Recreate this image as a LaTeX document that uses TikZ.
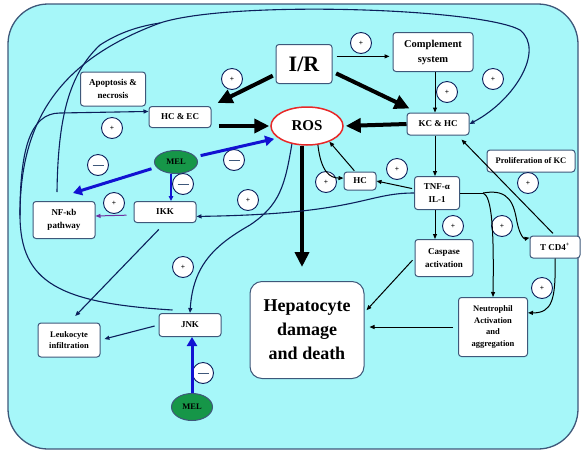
\documentclass[tikz,border=0pt]{standalone}
\usepackage{fontspec}
\setmainfont{Liberation Serif}
\usetikzlibrary{arrows.meta,shapes.geometric}
\definecolor{bgcyan}{RGB}{166,247,249}
\definecolor{boxline}{RGB}{62,88,122}
\definecolor{navy}{RGB}{12,32,92}
\definecolor{melblue}{RGB}{18,18,210}
\definecolor{melgreen}{RGB}{22,150,72}
\definecolor{rosred}{RGB}{232,40,40}
\definecolor{ikkpurple}{RGB}{112,48,160}
\begin{document}
\begin{tikzpicture}[
            x=1pt, y=-1pt,
            main node/.style={draw=boxline,fill=white,line width=1pt,rounded corners=3pt,align=center,inner sep=1pt,font=\bfseries\fontsize{9}{12.5}\selectfont},
            small node/.style={main node,font=\bfseries\fontsize{8.5}{11.5}\selectfont},
            mel node/.style={ellipse,draw=boxline,fill=melgreen,line width=1pt,inner sep=0pt,font=\bfseries\fontsize{8.5}{10}\selectfont},
            sign node/.style={circle,draw=navy,fill=white,line width=0.9pt,minimum size=21pt,inner sep=0pt,font=\bfseries\fontsize{7.5}{8}\selectfont},
            big arrow/.style={line width=4pt,-{Triangle[length=15pt,width=14pt]}},
            blue arrow/.style={draw=melblue,line width=3pt,-{Triangle[length=9pt,width=10pt]}},
            thin arrow/.style={line width=1pt,-{Triangle[length=5pt,width=4pt]}},
            navy arrow/.style={draw=navy,line width=1.1pt,-{Triangle[length=5pt,width=4pt]}},
            navy line/.style={draw=navy,line width=1.1pt}]
    \useasboundingbox (0,0) rectangle (582,451);
    \draw[draw=boxline,fill=bgcyan,line width=1.3pt,rounded corners=40pt] (8,4) rectangle (578,449);
            % Define vertices
    \node[main node,minimum width=56pt,minimum height=39pt,font=\bfseries\fontsize{22}{24}\selectfont] (ir) at (304,64) {I/R};
    \node[main node,minimum width=80pt,minimum height=39pt,font=\bfseries\fontsize{10.5}{15}\selectfont] (comp) at (433,52) {Complement\\system};
    \node[main node,minimum width=62pt,minimum height=22pt] (kchc) at (438,124) {KC \& HC};
    \node[ellipse,draw=rosred,fill=white,line width=1.5pt,minimum width=72pt,minimum height=38pt,font=\bfseries\fontsize{15}{16}\selectfont] (ros) at (307,126) {ROS};
    \node[main node,minimum width=62pt,minimum height=21pt] (hcec) at (180,117) {HC \& EC};
    \node[main node,minimum width=65pt,minimum height=34pt] (apop) at (113,89) {Apoptosis \&\\necrosis};
    \node[mel node,minimum width=43pt,minimum height=23pt] (mel1) at (176,162) {MEL};
    \node[main node,minimum width=62pt,minimum height=37pt] (nf) at (64,220) {NF-κb\\pathway};
    \node[main node,minimum width=62pt,minimum height=21pt] (ikk) at (165,212) {IKK};
    \node[main node,minimum width=32pt,minimum height=18pt] (hc) at (360,181) {HC};
    \node[main node,minimum width=45pt,minimum height=33pt] (tnf) at (437,193) {TNF-α\\IL-1};
    \node[small node,minimum width=88pt,minimum height=22pt] (prolif) at (531,161) {Proliferation of KC};
    \node[main node,minimum width=58pt,minimum height=37pt] (casp) at (444,258) {Caspase\\activation};
    \node[main node,minimum width=50pt,minimum height=22pt] (tcd) at (555,247) {T CD4\textsuperscript{+}};
    \node[small node,minimum width=69pt,minimum height=59pt] (neut) at (493,327) {Neutrophil\\Activation\\and\\aggregation};
    \node[main node,rounded corners=12pt,minimum width=114pt,minimum height=97pt,font=\bfseries\fontsize{18}{24}\selectfont] (hep) at (307,330) {Hepatocyte\\damage\\and death};
    \node[main node,minimum width=62pt,minimum height=23pt] (jnk) at (190,325) {JNK};
    \node[small node,minimum width=62pt,minimum height=34pt] (leuk) at (69,340) {Leukocyte\\infiltration};
    \node[mel node,minimum width=41pt,minimum height=27pt] (mel2) at (192,407) {MEL};
            % Signs
    \node[sign node] (p1) at (232,79) {+};
    \node[sign node] (p2) at (361,43) {+};
    \node[sign node] (p3) at (447,92) {+};
    \node[sign node] (p4) at (493,79) {+};
    \node[sign node] (p5) at (112,128) {+};
    \node[sign node] (p6) at (114,203) {+};
    \node[sign node] (p7) at (248,200) {+};
    \node[sign node] (p8) at (397,169) {+};
    \node[sign node] (p9) at (326,182) {+};
    \node[sign node] (p10) at (528,183) {+};
    \node[sign node] (p11) at (453,226) {+};
    \node[sign node] (p12) at (502,226) {+};
    \node[sign node] (p13) at (542,288) {+};
    \node[sign node] (p14) at (183,267) {+};
    \node[sign node] (m1) at (98,165) {\color{boxline}\rule{11pt}{1pt}};
    \node[sign node] (m2) at (234,160) {\color{boxline}\rule{11pt}{1pt}};
    \node[sign node] (m3) at (183,184) {\color{boxline}\rule{11pt}{1pt}};
    \node[sign node] (m4) at (203,373) {\color{boxline}\rule{11pt}{1pt}};
    \coordinate (fork) at (20,215);
    \coordinate (topjoin) at (160,23);
    \coordinate (tnfsplit) at (483,193);
            % Define edges
    \draw[big arrow,shorten <=3pt] (ir.200) -- ([xshift=6pt,yshift=3pt]hcec.north east);
    \draw[big arrow,shorten >=1pt] ([xshift=7pt,yshift=-9pt]hcec.east) -- (ros.west);
    \draw[big arrow,shorten <=4pt] (ir.345) -- ([xshift=3pt,yshift=4pt]kchc.north west);
    \draw[big arrow,shorten >=2pt] (kchc.west) -- (ros.east);
    \draw[big arrow,shorten >=14pt] ([xshift=-5pt]ros.south) -- ([xshift=-5pt]hep.north);
    \draw[thin arrow,shorten <=4pt,shorten >=3pt] (ir.15) -- (comp.west |- ir.15);
    \draw[thin arrow] ([xshift=2pt]comp.south) -- ([xshift=2pt]comp.south |- kchc.north);
    \draw[thin arrow] ([xshift=-3pt]kchc.south) -- ([xshift=-3pt]kchc.south |- tnf.north);
    \draw[thin arrow] ([xshift=-2pt]tnf.south) -- ([xshift=-2pt]tnf.south |- casp.north);
    \draw[thin arrow,shorten <=3pt] (tcd.north) -- ([xshift=-8pt,yshift=-4pt]kchc.south east);
    \draw[thin arrow,shorten <=1pt] ([xshift=-5pt]hc.north) -- (ros.-35);
    \draw[thin arrow] (ros.-60) .. controls (321,172) and (330,178) .. (hc.170);
    \draw[thin arrow,shorten <=2pt] (tnf.170) -- (hc.east);
    \draw[navy arrow] (tnf.west) .. controls (365,193) and (360,214) .. (ikk.-8);
    \draw[thin arrow,-] (tnf.east) -- (tnfsplit);
    \draw[thin arrow] (tnfsplit) .. controls (492,196) and (494,230) .. (neut.north);
    \draw[thin arrow] (tnfsplit) .. controls (510,188) and (514,205) .. (517,222) .. controls (520,236) and (524,239) .. (tcd.160);
    \draw[thin arrow] (tcd.south) .. controls (556,300) and (552,313) .. (neut.22);
    \draw[thin arrow,shorten <=3pt,shorten >=3pt] (casp.west) -- (hep.17);
    \draw[thin arrow,shorten <=5pt,shorten >=5pt] (neut.west) -- (hep.east |- neut.west);
    \draw[blue arrow,shorten <=5pt] (mel1.15) -- ([yshift=-4pt]ros.195);
    \draw[blue arrow,shorten <=5pt] (mel1.195) -- ([xshift=9pt,yshift=8pt]nf.north);
    \draw[draw=melblue,line width=1.2pt,-{Triangle[length=5pt,width=4.5pt]}] ([xshift=-5pt]mel1.south) -- ([xshift=-5pt]mel1.south |- ikk.north);
    \draw[draw=ikkpurple,line width=1pt,-{Triangle[length=5pt,width=4pt]},shorten <=7pt] ([yshift=-3pt]ikk.west) -- ([yshift=4pt]nf.east);
    \draw[blue arrow] (mel2.north) -- (jnk.south -| mel2.north);
    \draw[navy arrow,shorten <=4pt,shorten >=4pt] (jnk.west) -- (leuk.east);
    \draw[navy arrow,shorten <=9pt,shorten >=9pt] (ikk.south) -- (leuk.north);
    \draw[navy arrow] (ros.230) .. controls (285,185) and (280,205) .. (250,225) .. controls (215,245) and (193,265) .. (jnk.north);
    \draw[navy line] ([xshift=14pt,yshift=3pt]jnk.north west) .. controls (60,303) and (20,283) .. (fork);
    \draw[navy arrow] (fork) .. controls (20,150) and (30,113) .. (60,113) -- (hcec.170);
    \draw[navy arrow] (fork) .. controls (20,120) and (60,60) .. (topjoin) .. controls (230,0) and (480,8) .. (520,30) .. controls (545,50) and (515,100) .. (kchc.east);
    \draw[navy line] ([xshift=-7pt,yshift=9pt]nf.north) .. controls (58,120) and (68,75) .. (100,45) .. controls (120,32) and (140,26) .. (topjoin);
\end{tikzpicture}
\end{document}
